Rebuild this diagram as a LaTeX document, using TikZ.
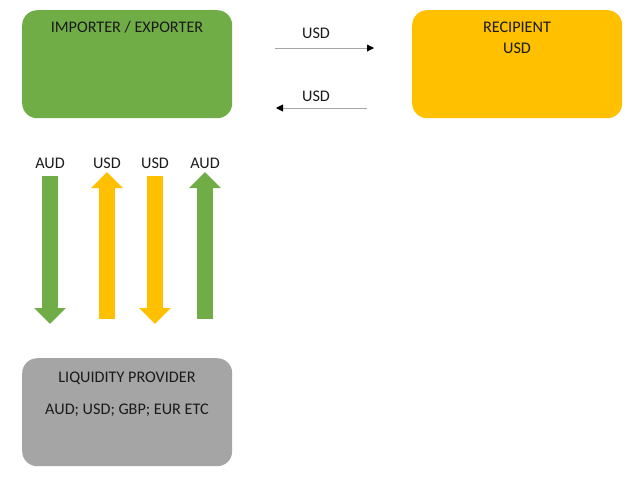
\documentclass[tikz,border=0pt]{standalone}
\usepackage{fontspec}
\setmainfont{Carlito}
\usetikzlibrary{arrows.meta}
\definecolor{cgreen}{HTML}{70AD47}
\definecolor{cyellow}{HTML}{FFC000}
\definecolor{cgrey}{HTML}{A5A5A5}
\definecolor{ctext}{HTML}{1A1A1A}
\begin{document}
\begin{tikzpicture}[x=1pt,y=-1pt,
  box/.style={rounded corners=15pt, minimum width=210pt, minimum height=108pt, inner sep=0pt, draw=none, anchor=north west},
  txt/.style={font=\fontsize{16.2}{19}\selectfont, text=ctext, inner sep=0pt, anchor=base},
  thin/.style={draw=gray!70, line width=0.9pt, -{Triangle[length=7pt,width=7pt,black]}},
  fat/.style={line width=16pt, -{Triangle[length=16pt,width=31pt]}}]
\useasboundingbox (0,0) rectangle (640,483);
\node[box, fill=cgreen] (imp) at (22,10) {};
\node[box, fill=cyellow] (rec) at (412,10) {};
\node[box, fill=cgrey] (liq) at (22,358) {};
\node[txt] (impt) at (127,32) {IMPORTER / EXPORTER};
\node[txt] (rect) at (517,32) {RECIPIENT};
\node[txt] (recu) at (517,53) {USD};
\node[txt] (liqt) at (127,382) {LIQUIDITY PROVIDER};
\node[txt] (liqc) at (127,414) {AUD; USD; GBP; EUR ETC};
% thin arrows
\coordinate (a1s) at (275,48);
\coordinate (a1e) at (374,48);
\coordinate (a2s) at (367,108);
\coordinate (a2e) at (276,108);
\draw[thin] (a1s) -- (a1e);
\draw[thin] (a2s) -- (a2e);
\node[txt] (l1) at (316,38) {USD};
\node[txt] (l2) at (316,101) {USD};
% block arrows
\coordinate (b1s) at (50,176); \coordinate (b1e) at (50,324);
\coordinate (b2s) at (107,319); \coordinate (b2e) at (107,172);
\coordinate (b3s) at (155,176); \coordinate (b3e) at (155,324);
\coordinate (b4s) at (205,319); \coordinate (b4e) at (205,172);
\draw[fat, cgreen] (b1s) -- (b1e);
\draw[fat, cyellow] (b2s) -- (b2e);
\draw[fat, cyellow] (b3s) -- (b3e);
\draw[fat, cgreen] (b4s) -- (b4e);
\node[txt] (c1) at (50,168) {AUD};
\node[txt] (c2) at (107,168) {USD};
\node[txt] (c3) at (155,168) {USD};
\node[txt] (c4) at (205,168) {AUD};
\end{tikzpicture}
\end{document}
